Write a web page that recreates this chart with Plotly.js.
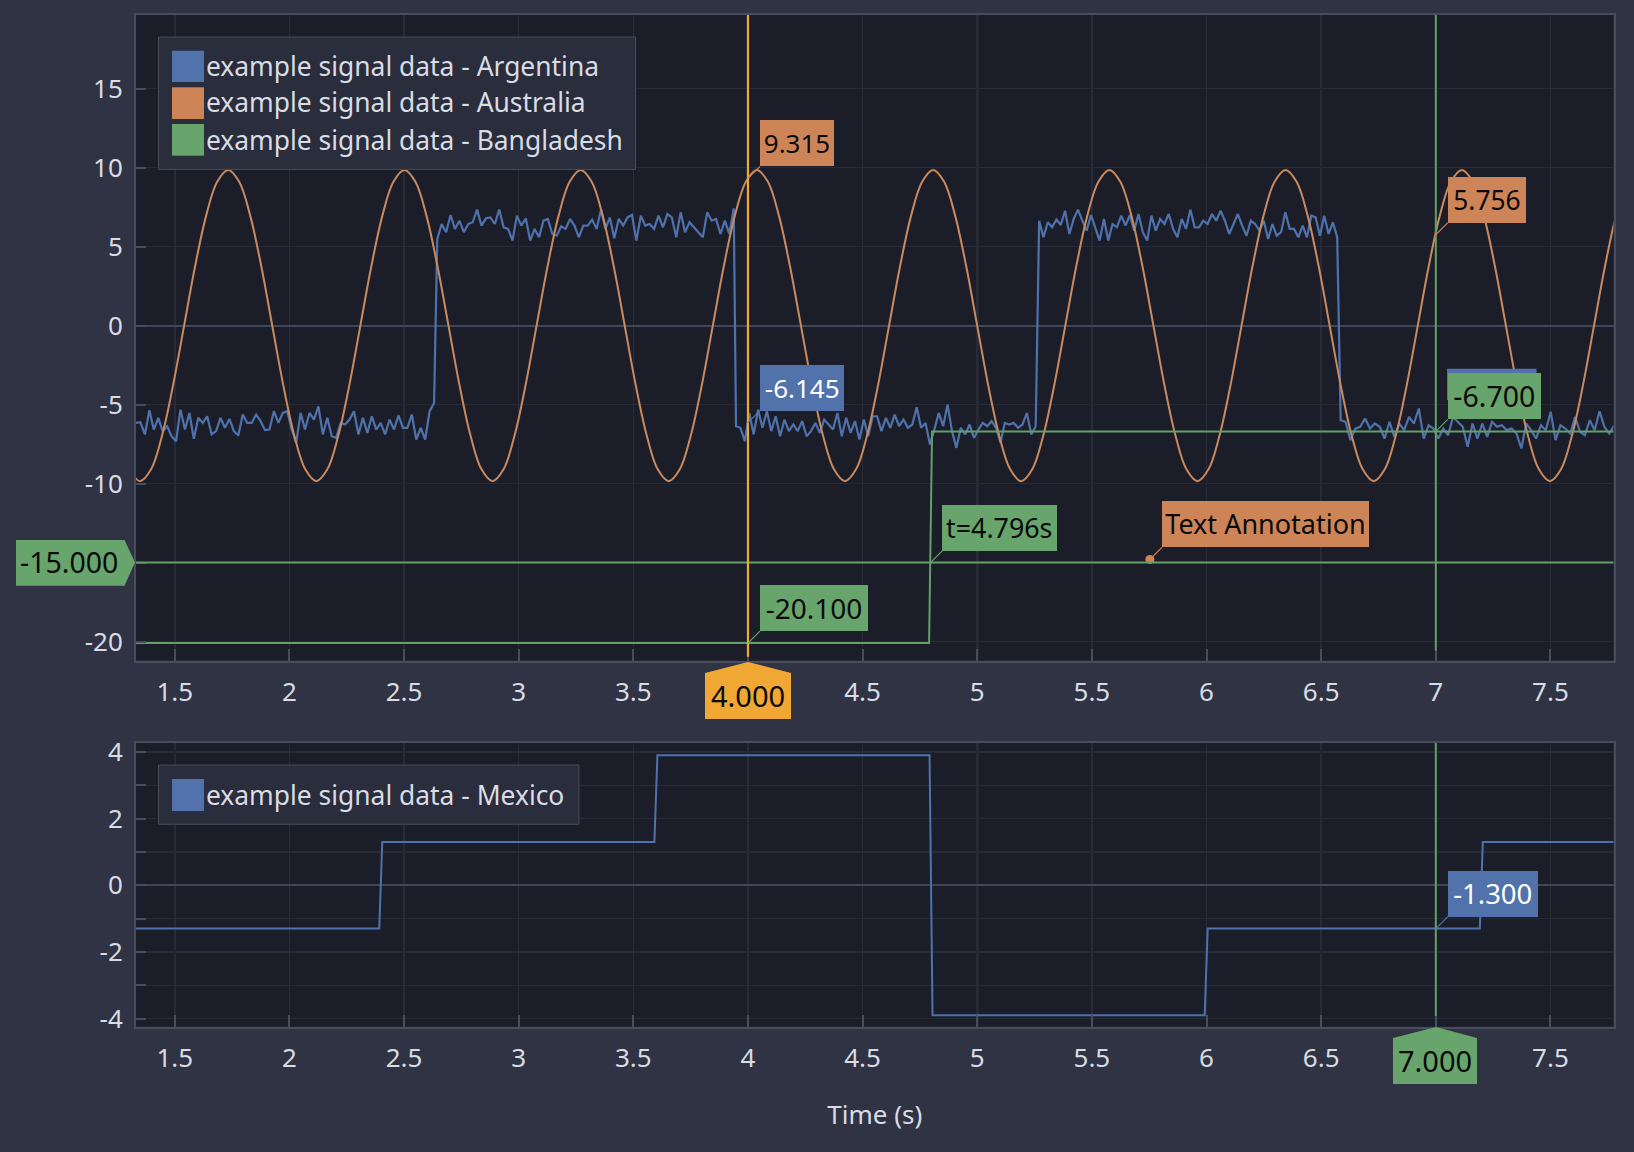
<!DOCTYPE html>
<html>
<head>
<meta charset="utf-8">
<script src="https://cdn.plot.ly/plotly-3.0.1.min.js"></script>
<style>html,body{margin:0;padding:0;background:#2f3344}#chart{width:1634px;height:1152px}</style>
</head>
<body>
<div id="chart"></div>
<script>
// ---- Data ----
const seriesNames = ['example signal data - Argentina','example signal data - Australia','example signal data - Bangladesh','example signal data - Mexico'];

// Argentina: five noisy stretches, with the time at which each starts and ends
const argentinaStarts = [1.331, 2.645, 3.948, 5.270, 6.585];
const argentinaEnds   = [2.631, 3.938, 5.255, 6.570, 7.778];
const argentinaLow1 = [-6.16,-6.12,-6.89,-5.36,-6.58,-5.84,-6.68,-6.37,-7.0,-7.32,-5.32,-6.58,-5.53,-7.17,-5.84,-6.16,-5.74,-6.89,-6.68,-5.84,-6.47,-5.91,-6.68,-6.96,-5.63,-6.16,-6.16,-5.63,-6.05,-6.62,-6.58,-5.42,-6.16,-5.53,-5.42,-6.58,-7.42,-5.53,-6.58,-5.53,-5.95,-5.11,-6.89,-5.84,-7.0,-7.11,-6.16,-6.26,-5.95,-5.42,-6.89,-5.84,-6.79,-5.74,-6.58,-6.16,-6.89,-5.95,-6.58,-5.69,-6.47,-6.47,-5.63,-7.21,-6.47,-7.21,-5.42,-4.9];
const argentinaHigh1 = [5.48,6.43,5.91,7.0,6.12,6.64,5.91,6.43,6.54,7.34,6.33,6.79,6.85,6.43,7.34,6.22,6.12,5.38,6.96,6.33,6.79,5.38,6.12,5.59,6.64,6.75,5.8,5.69,6.28,6.12,6.75,6.33,5.59,6.33,6.33,6.71,6.12,7.34,6.12,6.85,5.53,6.75,6.33,6.85,7.0,5.38,6.96,6.33,6.43,6.12,6.96,6.22,7.06,6.85,5.59,7.17,5.91,6.54,6.22,5.91,5.59,7.17,6.64,6.75,5.8,6.64,5.8,7.42];
const argentinaLow2 = [-6.37,-6.47,-7.32,-5.53,-6.89,-5.32,-6.47,-5.42,-6.68,-5.74,-7.0,-5.95,-6.68,-6.26,-6.68,-6.05,-7.0,-6.68,-6.16,-6.79,-5.95,-6.26,-6.58,-5.53,-7.0,-5.84,-6.79,-6.05,-7.21,-5.95,-7.0,-5.74,-5.74,-6.68,-5.84,-6.47,-5.63,-6.37,-5.95,-6.47,-6.26,-5.17,-6.47,-6.16,-7.53,-6.58,-5.53,-6.37,-5.0,-6.68,-7.74,-6.47,-6.89,-6.26,-7.11,-6.58,-6.16,-6.37,-6.05,-6.47,-7.42,-6.16,-6.26,-6.16,-6.47,-6.26,-5.53,-6.89,-6.37];
const argentinaHigh2 = [6.64,5.59,6.54,6.22,6.71,6.37,7.27,5.8,6.75,7.34,6.64,6.01,7.0,6.12,5.38,6.75,5.38,6.43,6.22,6.96,6.33,7.0,6.01,7.06,5.91,5.38,6.96,6.01,6.75,6.43,7.06,6.12,5.59,6.75,6.12,7.34,6.22,6.22,6.64,6.43,7.06,6.64,7.27,6.64,5.8,6.43,7.06,6.33,5.69,6.64,6.43,6.01,6.64,5.48,6.43,5.69,5.91,7.17,6.12,6.12,5.59,6.33,5.59,6.96,6.85,5.69,6.96,5.8,6.54,5.59];
const argentinaLow3 = [-5.99,-6.09,-7.25,-6.52,-6.41,-5.88,-6.52,-6.2,-6.41,-7.15,-6.09,-7.04,-6.2,-6.62,-5.78,-6.2,-5.25,-7.15,-6.31,-6.52,-7.15,-6.52,-6.94,-5.78,-6.09,-6.41,-7.67,-6.2,-7.15,-6.2,-7.04,-6.09,-6.41,-6.31,-6.62,-6.52,-6.83,-7.78,-6.2,-6.62,-7.15,-6.31,-6.62,-5.46,-7.25,-6.31,-6.52,-6.83,-5.78,-6.73,-6.94,-5.99,-6.62,-5.42,-6.41,-6.83,-6.31];

// Australia: one reading every 0.04804 s from t = 1.3007
const australiaStart = 1.3007, australiaStep = 0.04804;
const australia = [-9.10,
 -9.85,-9.10,-6.96,-3.77,0,3.77,6.96,9.10,9.85,9.10,6.96,3.77,0,-3.77,-6.96,-9.10,
 -9.85,-9.10,-6.96,-3.77,0,3.77,6.96,9.10,9.85,9.10,6.96,3.77,0,-3.77,-6.96,-9.10,
 -9.85,-9.10,-6.96,-3.77,0,3.77,6.96,9.10,9.85,9.10,6.96,3.77,0,-3.77,-6.96,-9.10,
 -9.85,-9.10,-6.96,-3.77,0,3.77,6.96,9.10,9.85,9.10,6.96,3.77,0,-3.77,-6.96,-9.10,
 -9.85,-9.10,-6.96,-3.77,0,3.77,6.96,9.10,9.85,9.10,6.96,3.77,0,-3.77,-6.96,-9.10,
 -9.85,-9.10,-6.96,-3.77,0,3.77,6.96,9.10,9.85,9.10,6.96,3.77,0,-3.77,-6.96,-9.10,
 -9.85,-9.10,-6.96,-3.77,0,3.77,6.96,9.10,9.85,9.10,6.96,3.77,0,-3.77,-6.96,-9.10,
 -9.85,-9.10,-6.96,-3.77,0,3.77,6.96,9.10,9.85,9.10,6.96,3.77,0,-3.77,-6.96,-9.10,
 -9.85,-9.10,-6.96,-3.77,0,3.77,6.96,9.10];

const bangladeshT = [1.331, 4.79, 4.803, 7.778];
const bangladesh  = [-20.1, -20.1, -6.7, -6.7];

const mexicoT = [1.331, 2.392, 2.405, 3.592, 3.605, 4.792, 4.805, 5.992, 6.005, 7.192, 7.205, 7.778];
const mexico  = [-1.3, -1.3, 1.3, 1.3, 3.9, 3.9, -3.9, -3.9, -1.3, -1.3, 1.3, 1.3];

const annotationDotT = [5.753], annotationDotV = [-14.8];

// Tick labels covered by the 4.000, 7.000 and -15.000 markers are left blank, as none can be seen there
const xTicks = [1.5,2,2.5,3,3.5,4,4.5,5,5.5,6,6.5,7,7.5];
const xTopText = ['1.5','2','2.5','3','3.5','','4.5','5','5.5','6','6.5','7','7.5'];
const xBotText = ['1.5','2','2.5','3','3.5','4','4.5','5','5.5','6','6.5','','7.5'];
const yTopTicks = [-20,-15,-10,-5,0,5,10,15];
const yTopText = ['-20','','-10','-5','0','5','10','15'];
const yBotTicks = [-4,-2,0,2,4];
const yBotText = ['-4','-2','0','2','4'];
const yBotMinor = [-3,-1,1,3];

// ---- Styling ----
const BLUE='#4f72ad', ORANGE='#c98a5f', GREEN='#649f68';
const BOX_BLUE='#5172ab', BOX_ORANGE='#cd8558', BOX_GREEN='#67a56c', AMBER='#f0a733';
const PAPER='#2f3344', PLOT='#1b1e28', GRID='#282b36', BRIGHT='#42465a', LINE='#484c5d', TEXT='#d9dce4';
const FONT='"Noto Sans", sans-serif';
const FS=26;

const px=x=>x/1634, py=y=>1-y/1152;

// Argentina x positions per stretch
const argLists=[argentinaLow1,argentinaHigh1,argentinaLow2,argentinaHigh2,argentinaLow3];
const argT=[], argV=[];
argLists.forEach((a,i)=>a.forEach((v,j)=>{
  argT.push(argentinaStarts[i]+(argentinaEnds[i]-argentinaStarts[i])*j/(a.length-1));
  argV.push(v);
}));

const traces=[
 {type:'scatter',mode:'lines',name:seriesNames[0],x:argT,y:argV,line:{color:BLUE,width:2.2},xaxis:'x',yaxis:'y',hoverinfo:'skip'},
 {type:'scatter',mode:'lines',name:seriesNames[1],x0:australiaStart,dx:australiaStep,y:australia,line:{color:ORANGE,width:2,shape:'spline',smoothing:1},xaxis:'x',yaxis:'y',hoverinfo:'skip'},
 {type:'scatter',mode:'lines',name:seriesNames[2],x:bangladeshT,y:bangladesh,line:{color:GREEN,width:2},xaxis:'x',yaxis:'y',hoverinfo:'skip'},
 {type:'scatter',mode:'markers',name:'Text Annotation',x:annotationDotT,y:annotationDotV,marker:{color:BOX_ORANGE,size:9},xaxis:'x',yaxis:'y',hoverinfo:'skip'},
 {type:'scatter',mode:'lines',name:seriesNames[3],x:mexicoT,y:mexico,line:{color:BLUE,width:2},xaxis:'x2',yaxis:'y2',hoverinfo:'skip'}
];

const rect=(x0,y0,x1,y1,fill,stroke)=>({type:'rect',xref:'paper',yref:'paper',x0:px(x0),x1:px(x1),y0:py(y1),y1:py(y0),fillcolor:fill,line:stroke?{color:stroke,width:1}:{width:0},layer:'above'});
const poly=(pts,fill)=>({type:'path',xref:'paper',yref:'paper',path:'M'+pts.map(p=>px(p[0])+','+py(p[1])).join(' L')+' Z',fillcolor:fill,line:{width:0},layer:'above'});
const vline=(xv,xa,ya,color,w,y0,layer)=>({type:'line',xref:xa,yref:ya+' domain',x0:xv,x1:xv,y0:y0,y1:1,line:{color:color,width:w},layer:layer});

const shapes=[
 vline(5,'x','y',BRIGHT,2,0,'below'),
 vline(5,'x2','y2',BRIGHT,2,0,'below'),
 {type:'line',xref:'x domain',yref:'y',x0:0,x1:1,y0:-15,y1:-15,line:{color:GREEN,width:2},layer:'above'},
 vline(4,'x','y',AMBER,2.2,0.006,'above'),
 vline(7,'x','y',GREEN,2,0.0155,'above'),
 vline(7,'x2','y2',GREEN,2,0.037,'above'),
 // legends
 rect(158.5,37,635.5,169.4,'#2a2d3b','#474b5a'),
 rect(172,50.7,204,82,BOX_BLUE),
 rect(172,87.3,204,119,BOX_ORANGE),
 rect(172,124,204,155.7,BOX_GREEN),
 rect(158.5,765,579,824.3,'#2a2d3b','#474b5a'),
 rect(172,779,204,811,BOX_BLUE),
 // hidden box peeking out behind the -6.700 label
 rect(1447,368.8,1536.5,400,BOX_BLUE),
 // axis-edge markers
 poly([[16,540],[124.5,540],[135,562.5],[124.5,585.7],[16,585.7]],BOX_GREEN),
 poly([[748,662],[791,673],[791,719],[705,719],[705,673]],AMBER),
 poly([[1436,1027],[1477,1038],[1477,1084],[1393,1084],[1393,1038]],BOX_GREEN)
];

const callout=(xa,ya,x,y,txt,w,bg,col,fs)=>({xref:xa,yref:ya,x:x,y:y,text:txt,showarrow:true,arrowhead:0,arrowwidth:1.2,arrowcolor:bg,ax:12,ay:-12,xanchor:'left',yanchor:'bottom',width:w,height:45.5,bgcolor:bg,borderpad:0,borderwidth:0,font:{family:FONT,size:fs,color:col},align:'center',valign:'middle'});
const plain=(x,y,txt,col,anchor,fs)=>({xref:'paper',yref:'paper',x:px(x),y:py(y),text:txt,showarrow:false,xanchor:anchor||'left',yanchor:'middle',font:{family:FONT,size:fs||26.4,color:col},borderpad:0});

const annotations=[
 plain(205,66,seriesNames[0],TEXT),
 plain(205,102.5,seriesNames[1],TEXT),
 plain(205,139.5,seriesNames[2],TEXT),
 plain(205,794.5,seriesNames[3],TEXT),
 callout('x','y',4,9.315,'9.315',74,BOX_ORANGE,'#0b0b0b',26),
 callout('x','y',4,-6.145,'-6.145',84.4,BOX_BLUE,'#ffffff',26),
 callout('x','y',4,-20.1,'-20.100',108,BOX_GREEN,'#0b0b0b',28),
 callout('x','y',4.796,-15,'t=4.796s',114.5,BOX_GREEN,'#0b0b0b',26.8),
 callout('x','y',annotationDotT[0],annotationDotV[0],'Text Annotation',207,BOX_ORANGE,'#0b0b0b',27),
 callout('x','y',7,5.756,'5.756',78,BOX_ORANGE,'#0b0b0b',26.4),
 callout('x','y',7,-6.7,'-6.700',92.6,BOX_GREEN,'#0b0b0b',28.5),
 callout('x2','y2',7,-1.3,'-1.300',89.5,BOX_BLUE,'#ffffff',27.5),
 plain(69,562,'-15.000','#0b0b0b','center',28.5),
 plain(747.5,695,'4.000','#0b0b0b','center',29),
 plain(1435,1060,'7.000','#0b0b0b','center',29)
];

const xBase=(anchor,text)=>({
 anchor:anchor,domain:[136/1634,1613.5/1634],range:[1.331,7.775],tickmode:'array',tickvals:xTicks,ticktext:text,
 ticks:'inside',ticklen:12,tickwidth:2,tickcolor:LINE,showgrid:true,gridcolor:GRID,gridwidth:1.5,zeroline:false,
 showline:true,mirror:true,linecolor:LINE,linewidth:2,ticklabelstandoff:7,
 tickfont:{family:FONT,size:FS,color:TEXT},automargin:false
});
const yBase=(anchor)=>({
 anchor:anchor,ticks:'inside',ticklen:10,tickwidth:2,tickcolor:LINE,showgrid:true,gridcolor:GRID,gridwidth:1.5,
 zeroline:true,zerolinecolor:BRIGHT,zerolinewidth:2,showline:true,mirror:true,linecolor:LINE,linewidth:2,
 tickmode:'array',ticklabelstandoff:6,tickfont:{family:FONT,size:FS,color:TEXT},automargin:false
});

const layout={
 width:1634,height:1152,paper_bgcolor:PAPER,plot_bgcolor:PLOT,showlegend:false,
 margin:{l:0,r:0,t:0,b:0,pad:0},
 font:{family:FONT,color:TEXT,size:FS},
 xaxis:xBase('y',xTopText),
 xaxis2:Object.assign(xBase('y2',xBotText),{title:{text:'Time (s)',font:{family:FONT,size:FS,color:TEXT},standoff:32}}),
 yaxis:Object.assign(yBase('x'),{domain:[1-660.5/1152,1-15/1152],range:[-21.2,19.66],tickvals:yTopTicks,ticktext:yTopText}),
 yaxis2:Object.assign(yBase('x2'),{domain:[1-1026.6/1152,1-743/1152],range:[-4.24,4.27],tickvals:yBotTicks,ticktext:yBotText,
   minor:{tickmode:'array',tickvals:yBotMinor,ticks:'inside',ticklen:10,tickwidth:2,tickcolor:LINE,showgrid:true,gridcolor:GRID,gridwidth:1.5}}),
 shapes:shapes,annotations:annotations
};
Plotly.newPlot('chart',traces,layout,{displayModeBar:false,staticPlot:true});
</script>
</body>
</html>
